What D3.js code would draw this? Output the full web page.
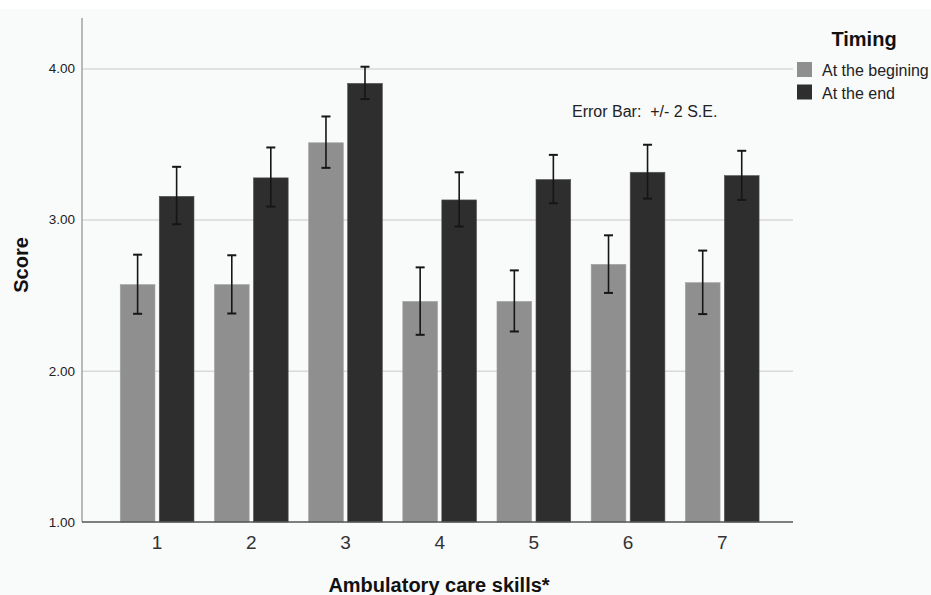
<!DOCTYPE html>
<html>
<head>
<meta charset="utf-8">
<script src="https://cdn.jsdelivr.net/npm/d3@7"></script>
<style>
  body { margin: 0; background: #ffffff; }
  text { font-family: "Liberation Sans", Arial, sans-serif; }
</style>
</head>
<body>
<svg id="barchart"></svg>
<script>
// chart values
const skills = ["1", "2", "3", "4", "5", "6", "7"];
const timings = ["At the begining", "At the end"];
const yTicks = [1, 2, 3, 4];

const beginMean = [2.57, 2.57, 3.508, 2.459, 2.459, 2.704, 2.583];
const beginLow = [2.377, 2.379, 3.342, 2.238, 2.26, 2.515, 2.375];
const beginHigh = [2.768, 2.764, 3.682, 2.684, 2.664, 2.896, 2.795];

const endMean = [3.154, 3.276, 3.901, 3.13, 3.265, 3.313, 3.291];
const endLow = [2.969, 3.086, 3.797, 2.954, 3.108, 3.139, 3.13];
const endHigh = [3.349, 3.477, 4.011, 3.313, 3.428, 3.495, 3.455];

const colors = ["#8f8f8f", "#2e2e2e"];

let svg, xScale, xInner, yScale;
const plot = { left: 82, right: 793, top: 20, bottom: 522 };

document.addEventListener("DOMContentLoaded", function () {
  svg = d3.select("#barchart").attr("width", 931).attr("height", 595);

  // faint background like the original export
  svg.append("rect").attr("x", 0).attr("y", 0).attr("width", 931).attr("height", 595).attr("fill", "#ffffff");
  svg.append("rect").attr("x", 0).attr("y", 9).attr("width", 931).attr("height", 586).attr("fill", "#f9fafa");

  const data = skills.map((s, i) => ({
    skill: s,
    values: [
      { timing: 0, mean: beginMean[i], low: beginLow[i], high: beginHigh[i] },
      { timing: 1, mean: endMean[i], low: endLow[i], high: endHigh[i] },
    ],
  }));

  drawAxes();
  drawBars(data);
  drawLegend();
});

function drawAxes() {
  xScale = d3.scaleBand()
    .domain(skills)
    .range([plot.left, plot.right])
    .paddingInner(0.217)
    .paddingOuter(0.383)
    .align(0.53);

  xInner = d3.scaleBand()
    .domain([0, 1])
    .range([0, xScale.bandwidth()])
    .paddingInner(0.11);

  yScale = d3.scaleLinear().domain([1, 4.32]).range([plot.bottom, plot.top]);

  // gridlines
  svg.append("g")
    .attr("transform", `translate(${plot.left},0)`)
    .call(d3.axisLeft(yScale).tickValues(yTicks.slice(1)).tickSize(-(plot.right - plot.left)).tickFormat(""))
    .call((g) => g.select(".domain").remove())
    .call((g) => g.selectAll("line").attr("stroke", "#d9d9d9").attr("stroke-width", 1.5));

  // y axis
  const yAxis = svg.append("g")
    .attr("transform", `translate(${plot.left},0)`)
    .call(d3.axisLeft(yScale).tickValues(yTicks).tickSize(0).tickPadding(7).tickFormat(d3.format(".2f")));
  yAxis.select(".domain").attr("stroke", "#a3a3a3").attr("stroke-width", 1.5)
    .attr("d", `M0,${plot.top - 2}V${plot.bottom}`);
  yAxis.selectAll("text").attr("font-size", "13.5px").attr("fill", "#222").attr("font-family", "Liberation Sans, Arial, sans-serif");

  svg.append("text")
    .attr("transform", "rotate(-90)")
    .attr("x", -265)
    .attr("y", 28)
    .attr("text-anchor", "middle")
    .attr("font-size", "20px")
    .attr("font-weight", "bold")
    .attr("fill", "#111")
    .text("Score");
}

function drawBars(data) {
  const groups = svg.append("g")
    .selectAll("g")
    .data(data)
    .join("g")
    .attr("transform", (d) => `translate(${xScale(d.skill)},0)`);

  groups.selectAll("rect")
    .data((d) => d.values)
    .join("rect")
    .attr("x", (d) => xInner(d.timing))
    .attr("y", (d) => yScale(d.mean))
    .attr("width", xInner.bandwidth())
    .attr("height", (d) => yScale(1) - yScale(d.mean))
    .attr("fill", (d) => colors[d.timing])
    .attr("stroke", (d) => (d.timing == 0 ? "#a2a2a2" : "#555"))
    .attr("stroke-width", 0.6);

  // error bars
  const capHalf = 4.5;
  const err = groups.selectAll(".err")
    .data((d) => d.values)
    .join("g")
    .attr("class", "err")
    .attr("stroke", "#161616");

  err.append("line")
    .attr("x1", (d) => xInner(d.timing) + xInner.bandwidth() / 2)
    .attr("x2", (d) => xInner(d.timing) + xInner.bandwidth() / 2)
    .attr("y1", (d) => yScale(d.low))
    .attr("y2", (d) => yScale(d.high))
    .attr("stroke-width", 1.6);

  err.selectAll(".cap")
    .data((d) => [{ t: d.timing, v: d.low }, { t: d.timing, v: d.high }])
    .join("line")
    .attr("class", "cap")
    .attr("x1", (d) => xInner(d.t) + xInner.bandwidth() / 2 - capHalf)
    .attr("x2", (d) => xInner(d.t) + xInner.bandwidth() / 2 + capHalf)
    .attr("y1", (d) => yScale(d.v))
    .attr("y2", (d) => yScale(d.v))
    .attr("stroke-width", 2);

  // x axis drawn over bar bottoms
  const xAxis = svg.append("g")
    .attr("transform", `translate(0,${plot.bottom})`)
    .call(d3.axisBottom(xScale).tickSize(0).tickPadding(14));
  xAxis.select(".domain").attr("stroke", "#555").attr("stroke-width", 1.5)
    .attr("d", `M${plot.left},0H${plot.right}`);
  xAxis.selectAll("text").attr("font-size", "19px").attr("fill", "#333").attr("font-family", "Liberation Sans, Arial, sans-serif");

  svg.append("text")
    .attr("x", 439)
    .attr("y", 592)
    .attr("text-anchor", "middle")
    .attr("font-size", "20px")
    .attr("font-weight", "bold")
    .attr("fill", "#111")
    .text("Ambulatory care skills*");

  svg.append("text")
    .attr("x", 572)
    .attr("y", 117)
    .attr("font-size", "16px")
    .attr("fill", "#222")
    .style("white-space", "pre")
    .text("Error Bar:  +/- 2 S.E.");
}

function drawLegend() {
  const legend = svg.append("g");

  legend.append("text")
    .attr("x", 864)
    .attr("y", 46)
    .attr("text-anchor", "middle")
    .attr("font-size", "20px")
    .attr("font-weight", "bold")
    .attr("fill", "#111")
    .text("Timing");

  const items = legend.selectAll(".item")
    .data(timings)
    .join("g")
    .attr("class", "item")
    .attr("transform", (d, i) => `translate(797,${62 + i * 22.5})`);

  items.append("rect")
    .attr("width", 15)
    .attr("height", 15)
    .attr("fill", (d, i) => colors[i]);

  items.append("text")
    .attr("x", 25)
    .attr("y", 14)
    .attr("font-size", "16px")
    .attr("fill", "#222")
    .text((d) => d);
}
</script>
</body>
</html>
